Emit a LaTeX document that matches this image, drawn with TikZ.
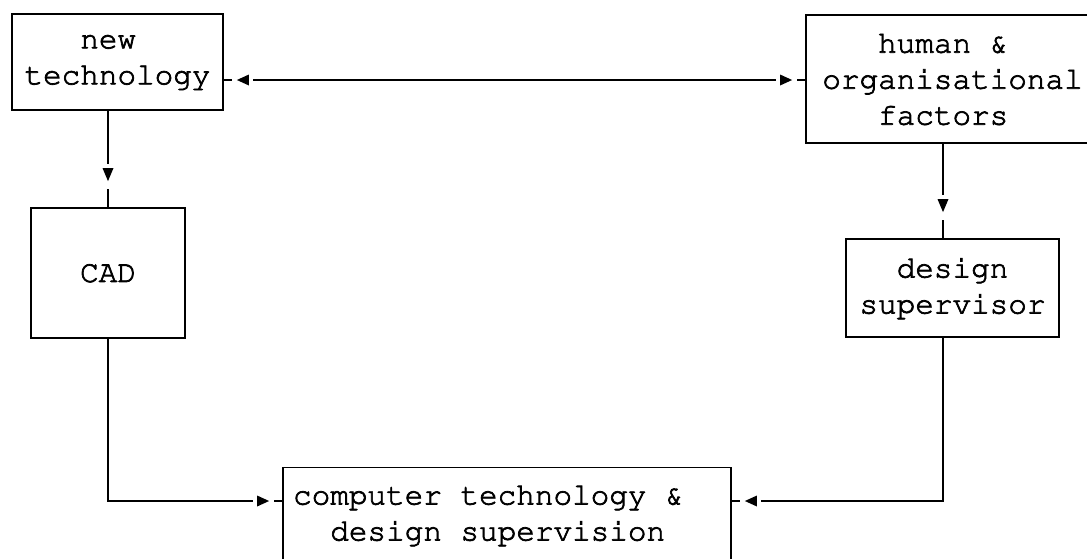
\documentclass[tikz,border=0pt]{standalone}
\usepackage[T1]{fontenc}
\usetikzlibrary{decorations.markings}
\newcommand{\heavy}[1]{\special{pdf:literal direct 2 Tr 0.7 w}#1\special{pdf:literal direct 0 Tr}}
\tikzset{
  box/.style={draw, line width=1.8pt, inner sep=0pt, align=left, font=\fontfamily{pcr}\fontsize{31}{36}\selectfont},
  plain/.style={inner sep=0pt, align=left, font=\fontfamily{pcr}\fontsize{31}{36}\selectfont},
  conn/.style={line width=1.6pt},
  headh/.style={postaction={decorate, decoration={markings, mark=at position 0.99999 with {%
      \fill[white] (-29,-3) rectangle (-8,3);
      \fill[black] (-13,0) -- (-25,5.5) -- (-25,-5.5) -- cycle;}}}},
  tailh/.style={postaction={decorate, decoration={markings, mark=at position 0.00001 with {%
      \fill[white] (29,-3) rectangle (8,3);
      \fill[black] (13,0) -- (25,5.5) -- (25,-5.5) -- cycle;}}}},
  headv/.style={postaction={decorate, decoration={markings, mark=at position 0.99999 with {%
      \fill[white] (-43,-3) rectangle (-18,3);
      \fill[black] (-26,0) -- (-39,5.5) -- (-39,-5.5) -- cycle;}}}},
}
\begin{document}
\begin{tikzpicture}[x=1pt,y=-1pt]
\useasboundingbox (0,0) rectangle (1087,558);
\clip (0,0) rectangle (1087,558);
\node[box, minimum width=211pt, minimum height=96pt] (nt) at (117.5,62) {\heavy{\hphantom{xxx}new}\\\heavy{technology}};
\node[box, minimum width=293pt, minimum height=128pt] (hum) at (952.5,79) {\heavy{\hphantom{xxx}human \&}\\\heavy{organisational}\\\heavy{\hphantom{xxx}factors}};
\node[box, minimum width=154pt, minimum height=130pt] (cad) at (108,273) {\heavy{CAD}};
\node[box, minimum width=213pt, minimum height=98pt] (ds) at (952.5,288) {\heavy{\hphantom{xx}design}\\\heavy{supervisor}};
\node[box, minimum width=448pt, minimum height=151pt] (bot) at (507,543) {};
\node[plain] (bottxt) at (507,515) {\heavy{computer technology \&\hphantom{xx}}\\\heavy{\hphantom{xx}design supervision}};
\coordinate (ytop) at (0,80);
\coordinate (ybot) at (0,501);
\coordinate (xr) at (943,0);
\draw[conn, headh, tailh] (nt.east |- ytop) -- (hum.west |- ytop);
\draw[conn, headv] (nt.south -| cad.north) -- (cad.north);
\draw[conn, headv] (hum.south -| xr) -- (ds.north -| xr);
\draw[conn, headh] (cad.south) |- (bot.west |- ybot);
\draw[conn, headh] (ds.south -| xr) |- (bot.east |- ybot);
\end{tikzpicture}
\end{document}
